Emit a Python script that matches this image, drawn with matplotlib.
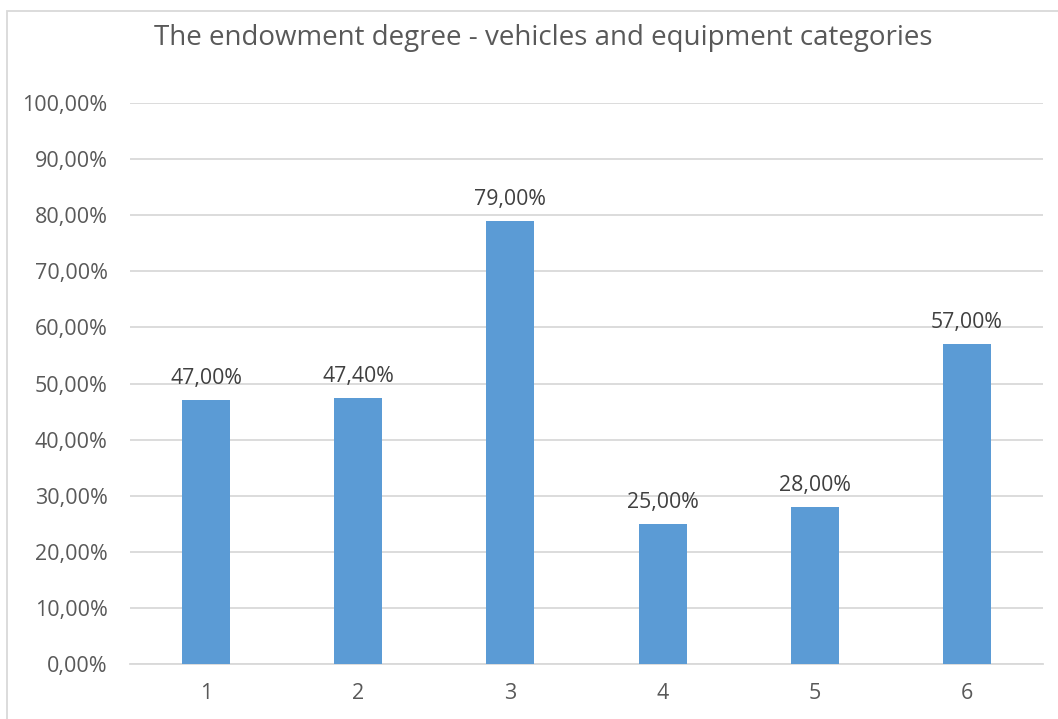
import matplotlib
matplotlib.use("Agg")
import matplotlib.pyplot as plt
from matplotlib.patches import Rectangle
from matplotlib.ticker import FuncFormatter

categories = ["1", "2", "3", "4", "5", "6"]
values = [47.0, 47.4, 79.0, 25.0, 28.0, 57.0]
labels = ["47,00%", "47,40%", "79,00%", "25,00%", "28,00%", "57,00%"]
title = "The endowment degree - vehicles and equipment categories"

plt.rcParams['font.family'] = ['Open Sans', 'DejaVu Sans']

W, H = 1058, 719
fig = plt.figure(figsize=(W / 100, H / 100), dpi=100)
ax = fig.add_axes([130 / W, 1 - 664 / H, (1043 - 130) / W, (664 - 103) / H])

x = list(range(len(categories)))
bars = ax.bar(x, values, width=0.316, color="#5B9BD5", zorder=3)
ax.set_xlim(-0.5, len(categories) - 0.5)
ax.set_ylim(0, 100)
ax.set_yticks(range(0, 101, 10))
ax.yaxis.set_major_formatter(FuncFormatter(lambda v, p: f"{v:.2f}%".replace(".", ",")))
ax.set_xticks(x)
ax.set_xticklabels(categories)
ax.grid(axis="y", color="#D9D9D9", linewidth=1.3, zorder=0)
for s in ["top", "right", "left"]:
    ax.spines[s].set_visible(False)
ax.spines["bottom"].set_color("#D9D9D9")
ax.spines["bottom"].set_linewidth(1.3)
ax.tick_params(axis="both", length=0, colors="#595959", labelsize=15.5)
ax.tick_params(axis="y", pad=16)
ax.tick_params(axis="x", pad=14)

for b, lab in zip(bars, labels):
    ax.annotate(lab, (b.get_x() + b.get_width() / 2, b.get_height()),
                xytext=(0, 8), textcoords="offset points", ha="center", va="bottom",
                fontsize=15.3, color="#404040")

fig.text(543 / W, 1 - 38 / H, title, ha="center", va="center", fontsize=20, color="#595959")

fig.patches.append(Rectangle((7 / W, -0.1), 1.2, 1 - 11 / H + 0.1, transform=fig.transFigure,
                             fill=False, edgecolor="#D9D9D9", linewidth=1.3))

fig.savefig("out.png", dpi=100)
